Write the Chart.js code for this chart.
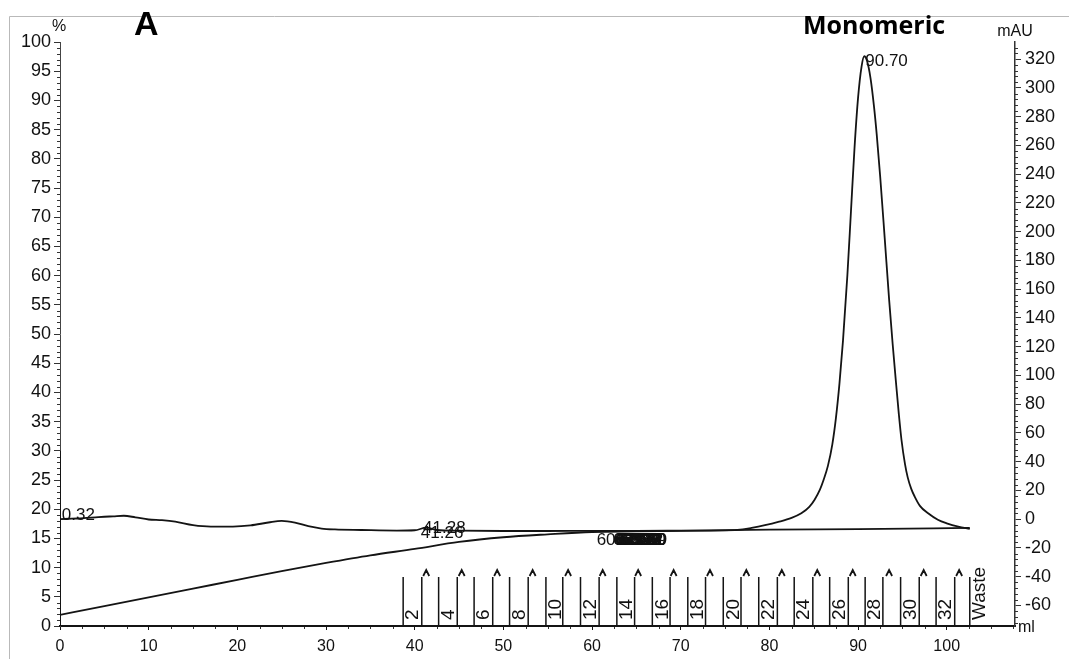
<!DOCTYPE html>
<html>
<head>
<meta charset="utf-8">
<script src="https://cdn.jsdelivr.net/npm/chart.js@4.4.1/dist/chart.umd.min.js"></script>
<style>
  html, body { margin: 0; padding: 0; background: #fff; }
  canvas { display: block; }
</style>
</head>
<body>
<canvas id="chrom" width="1069" height="659"></canvas>
<script>
// UV absorbance trace: elution volume (ml) and signal (mAU)
const uvVolume = [0, 1, 2, 3, 4, 5, 6, 7.2, 8.5, 10, 11.5, 13, 15, 17, 19.5, 21.5, 23.5, 25, 26.5, 28,
  29.5, 31, 34, 38, 40, 41.3, 42.5, 45, 50, 55, 60, 65, 70, 75, 77, 78, 79.5, 81, 82.5, 83.6,
  84.5, 85.1, 85.7, 86.1, 86.6, 87.1, 87.5, 87.9, 88.3, 88.8, 89.2, 89.6, 90.0, 90.4, 90.7, 91.0,
  91.4, 91.8, 92.1, 92.5, 93.0, 93.5, 93.9, 94.25, 94.6, 94.9, 95.3, 95.6, 96.0, 96.4, 97.0, 97.9,
  99, 100, 101.3, 102.6];
const uvAbsorbance = [0, 0.2, 0.4, 0.8, 1.2, 1.6, 1.9, 2.3, 1.2, -0.3, -0.8, -1.8, -4.2, -5.2, -5.2, -4.4, -2.4, -1.2, -2.4, -5,
  -6.6, -7.2, -7.6, -8, -7.8, -6, -7.6, -8.1, -8.3, -8.3, -8.2, -8.2, -8.1, -7.9, -7.2, -6.2, -4.3, -2.0, 0.8, 4,
  8.5, 13.5, 20.5, 27, 37, 52, 70, 94, 124, 170, 214, 258, 293, 315, 322, 319,
  307, 287, 268, 238, 196, 153, 122, 97, 73, 55, 38, 29, 21, 15.5, 9, 4,
  -0.5, -3, -5.3, -6.8];

// Gradient trace (%B)
const gradVolume = [0, 5, 10, 15, 20, 25, 30, 35, 40, 45, 50, 55, 60, 65, 70, 80, 90, 102.6];
const gradPercent = [1.9, 3.4, 4.9, 6.4, 7.9, 9.4, 10.8, 12.1, 13.2, 14.4, 15.2, 15.7, 16.1, 16.2, 16.3, 16.5, 16.6, 16.8];

// Injection mark at the start of the run
const injectVolume = [0, 0];
const injectPercent = [0, 30];

// Fraction collector: start volume of each fraction and its printed number
const fracStart = [38.7, 40.8, 42.7, 44.8, 46.7, 48.8, 50.7, 52.8, 54.8, 56.7, 58.7, 60.8, 62.8, 64.8,
  66.8, 68.8, 70.8, 72.8, 74.8, 76.8, 78.8, 80.9, 82.8, 84.9, 86.8, 88.9, 90.8, 92.8, 94.8, 96.9,
  98.8, 100.9, 102.6];
const fracLabels = ["2", "", "4", "", "6", "", "8", "", "10", "", "12", "", "14", "", "16", "", "18", "",
  "20", "", "22", "", "24", "", "26", "", "28", "", "30", "", "32", "", "Waste"];

// Event marks
const eventVolume = [41.3, 45.3, 49.3, 53.3, 57.3, 61.2, 65.2, 69.2, 73.3, 77.4, 81.4, 85.4, 89.4, 93.5, 97.4, 101.4];

// Peak retention volumes (ml)
const peakRetention = [0.32, 41.26, 41.28, 60.52, 62.36, 62.46, 62.55, 62.65, 62.74, 62.84, 62.93, 63.03,
  63.12, 63.22, 63.31, 63.41, 63.50, 63.60, 63.69, 90.70];

// Axis tick labels
const volumeTicks = [0, 10, 20, 30, 40, 50, 60, 70, 80, 90, 100];
const percentTicks = [0, 5, 10, 15, 20, 25, 30, 35, 40, 45, 50, 55, 60, 65, 70, 75, 80, 85, 90, 95, 100];
const mauTicks = [-60, -40, -20, 0, 20, 40, 60, 80, 100, 120, 140, 160, 180, 200, 220, 240, 260, 280, 300, 320];

const INK = '#141414';
const TEXT = '#111';
const FONT = "'Liberation Sans', Arial, sans-serif";

function pairs(xs, ys) { return xs.map((x, i) => ({ x: x, y: ys[i] })); }
function lerp(xs, ys, v) {
  for (let i = 1; i < xs.length; i++) {
    if (v <= xs[i]) {
      const t = (v - xs[i - 1]) / (xs[i] - xs[i - 1]);
      return ys[i - 1] + t * (ys[i] - ys[i - 1]);
    }
  }
  return ys[ys.length - 1];
}

const chromDecor = {
  id: 'chromDecor',
  beforeDraw(chart) {
    const ctx = chart.ctx;
    ctx.save();
    ctx.fillStyle = '#fff';
    ctx.fillRect(0, 0, chart.width, chart.height);
    // page frame
    ctx.strokeStyle = '#b9b9b9';
    ctx.lineWidth = 1;
    ctx.beginPath();
    ctx.moveTo(9.5, chart.height);
    ctx.lineTo(9.5, 16.5);
    ctx.lineTo(chart.width, 16.5);
    ctx.stroke();
    ctx.restore();
  },
  afterDraw(chart, args, opts) {
    const ctx = chart.ctx;
    const x = chart.scales.x, y = chart.scales.y, y1 = chart.scales.y1;
    const bottom = y.bottom;
    ctx.save();

    // minor ticks
    ctx.strokeStyle = '#333';
    ctx.lineWidth = 1;
    ctx.beginPath();
    for (let v = 1; v < 100; v++) {
      if (v % 5 === 0) continue;
      const py = Math.round(y.getPixelForValue(v)) + 0.5;
      ctx.moveTo(y.right - 3, py); ctx.lineTo(y.right, py);
    }
    for (let v = -72; v <= 328; v += 4) {
      if (v % 20 === 0) continue;
      const py = Math.round(y1.getPixelForValue(v)) + 0.5;
      ctx.moveTo(y1.left, py); ctx.lineTo(y1.left + 3, py);
    }
    for (let v = 2.5; v < 107.7; v += 2.5) {
      if (Math.abs(v % 10) < 1e-6) continue;
      const px = Math.round(x.getPixelForValue(v)) + 0.5;
      ctx.moveTo(px, x.top + 1); ctx.lineTo(px, x.top + 3);
    }
    ctx.stroke();

    // fraction marks
    ctx.strokeStyle = INK;
    ctx.lineWidth = 1.5;
    ctx.beginPath();
    fracStart.forEach(v => {
      const px = x.getPixelForValue(v);
      ctx.moveTo(px, bottom); ctx.lineTo(px, bottom - 49);
    });
    ctx.stroke();
    ctx.lineWidth = 1.8;
    ctx.beginPath();
    eventVolume.forEach(v => {
      const px = x.getPixelForValue(v);
      ctx.moveTo(px - 3, bottom - 50); ctx.lineTo(px, bottom - 56); ctx.lineTo(px + 3, bottom - 50);
    });
    ctx.stroke();
    ctx.fillStyle = TEXT;
    ctx.font = '19px ' + FONT;
    ctx.textAlign = 'left';
    ctx.textBaseline = 'middle';
    fracStart.forEach((v, i) => {
      if (!fracLabels[i]) return;
      const px = x.getPixelForValue(v);
      ctx.save();
      ctx.translate(px + 10, bottom - 6);
      ctx.rotate(-Math.PI / 2);
      ctx.fillText(fracLabels[i], 0, 0);
      ctx.restore();
    });

    // peak retention labels
    ctx.font = '17px ' + FONT;
    ctx.textBaseline = 'middle';
    peakRetention.forEach((r, i) => {
      const px = x.getPixelForValue(r);
      const py = y1.getPixelForValue(lerp(uvVolume, uvAbsorbance, r));
      const s = i === 0 ? opts.firstShift : (i === peakRetention.length - 1 ? opts.apexShift :
        (r < 41.27 ? opts.lowShift : (r < 50 ? opts.highShift : opts.midShift)));
      ctx.fillText(r.toFixed(2), px + s[0], py + s[1]);
    });

    // unit labels
    ctx.font = '16px ' + FONT;
    ctx.textAlign = 'center';
    ctx.fillText('%', y.right - 1, 27);
    ctx.fillText('mAU', y1.left, 32);
    ctx.textAlign = 'left';
    ctx.fillText('ml', y1.left + 3, bottom + 2);

    // panel letter and peak name
    ctx.fillStyle = '#000';
    ctx.textBaseline = 'alphabetic';
    ctx.font = 'bold 34px ' + FONT;
    ctx.fillText('A', 134, 35);
    ctx.font = "bold 25px 'Open Sans', sans-serif";
    ctx.fillText('Monomeric', 803, 34);
    ctx.restore();
  }
};

const lineStyle = {
  borderColor: INK,
  borderWidth: 1.8,
  pointRadius: 0,
  showLine: true,
  fill: false
};

new Chart(document.getElementById('chrom'), {
  type: 'scatter',
  data: {
    datasets: [
      Object.assign({ label: 'UV', data: pairs(uvVolume, uvAbsorbance), yAxisID: 'y1', cubicInterpolationMode: 'monotone' }, lineStyle),
      Object.assign({ label: 'Gradient', data: pairs(gradVolume, gradPercent), yAxisID: 'y', cubicInterpolationMode: 'monotone' }, lineStyle),
      Object.assign({ label: 'Inject', data: pairs(injectVolume, injectPercent), yAxisID: 'y' }, lineStyle, { borderWidth: 2 })
    ]
  },
  options: {
    responsive: false,
    animation: false,
    devicePixelRatio: 1,
    layout: { padding: { top: 42, left: 0, right: 0, bottom: 0 } },
    plugins: {
      legend: { display: false },
      tooltip: { enabled: false },
      chromDecor: {
        firstShift: [-1, -4],
        lowShift: [-5, 6],
        highShift: [-3, 1],
        midShift: [0, 9],
        apexShift: [1, 5]
      }
    },
    scales: {
      x: {
        type: 'linear',
        position: 'bottom',
        min: 0,
        max: 107.7,
        afterBuildTicks: s => { s.ticks = volumeTicks.map(v => ({ value: v })); },
        afterFit: s => { s.height = 33; },
        ticks: { color: TEXT, font: { family: FONT, size: 16 }, padding: 7, maxRotation: 0, autoSkip: false },
        grid: { drawOnChartArea: false, drawTicks: true, tickLength: 4, color: INK },
        border: { display: true, color: INK, width: 2 }
      },
      y: {
        type: 'linear',
        position: 'left',
        min: 0,
        max: 100,
        afterBuildTicks: s => { s.ticks = percentTicks.map(v => ({ value: v })); },
        afterFit: s => { s.width = 60; },
        ticks: { color: TEXT, font: { family: FONT, size: 18 }, padding: 3, autoSkip: false },
        grid: { drawOnChartArea: false, drawTicks: true, tickLength: 6, color: '#333' },
        border: { display: true, color: '#444', width: 1 }
      },
      y1: {
        type: 'linear',
        position: 'right',
        min: -74.4,
        max: 331.9,
        afterBuildTicks: s => { s.ticks = mauTicks.map(v => ({ value: v })); },
        afterFit: s => { s.width = 54; },
        ticks: { color: TEXT, font: { family: FONT, size: 18 }, padding: 4, autoSkip: false },
        grid: { drawOnChartArea: false, drawTicks: true, tickLength: 6, color: '#333' },
        border: { display: true, color: '#333', width: 1.5 }
      }
    }
  },
  plugins: [chromDecor]
});
</script>
</body>
</html>
